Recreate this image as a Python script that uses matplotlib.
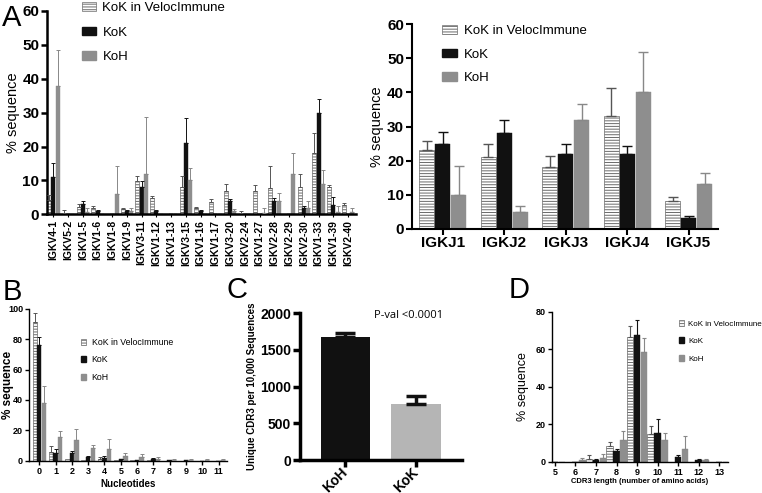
"""
IGK repertoire figure: V usage, J usage, N additions, unique CDR3 and CDR3 length
"""

import numpy as np
import matplotlib
matplotlib.use("Agg")
import matplotlib.pyplot as plt
from matplotlib.patches import Patch

plt.rcParams["font.family"] = ["Liberation Sans", "DejaVu Sans"]
plt.rcParams["hatch.linewidth"] = 0.7

# ── data ────────────────────────────────────────────────────────────────────
v_genes = ["IGKV4-1", "IGKV5-2", "IGKV1-5", "IGKV1-6", "IGKV1-8", "IGKV1-9",
           "IGKV3-11", "IGKV1-12", "IGKV1-13", "IGKV3-15", "IGKV1-16", "IGKV1-17",
           "IGKV3-20", "IGKV2-24", "IGKV1-27", "IGKV2-28", "IGKV2-29", "IGKV2-30",
           "IGKV1-33", "IGKV1-39", "IGKV2-40"]
v_vi      = [4.2, 0.5, 2.3, 1.8, 0.1, 1.5, 9.7, 4.7, 0, 8.2, 1.8, 3.7, 6.8, 0.3, 7.0, 7.9, 0.1, 8.0, 18, 8.0, 2.8]
v_vi_top  = [5.6, 1.3, 3.0, 2.5, 0.1, 2.0, 11.2, 5.3, 0, 11.4, 2.2, 4.4, 8.8, 0.9, 8.6, 14.4, 0.1, 11.9, 24, 8.7, 3.2]
v_kok     = [11, 0, 3.0, 1.0, 0, 1.0, 8.0, 1.0, 0, 21, 1.0, 0, 3.9, 0, 0, 3.9, 0, 1.8, 30, 2.8, 0]
v_kok_top = [15, 0, 3.8, 1.3, 0, 1.2, 9.8, 1.2, 0, 28.4, 1.2, 0, 4.5, 0, 0, 4.7, 0, 2.4, 34, 5.0, 0]
v_koh     = [38, 0, 0.8, 0.2, 6.0, 1.0, 12, 0.2, 0, 10, 0.2, 0.2, 1.0, 0, 0.4, 3.9, 12, 1.9, 9, 0.8, 0.7]
v_koh_top = [48.5, 0, 1.8, 0.2, 14.3, 1.9, 28.8, 0.2, 0, 13.7, 0.2, 0.2, 1.6, 0, 2.0, 6.4, 18, 4.0, 13, 2.4, 2.0]

j_genes   = ["IGKJ1", "IGKJ2", "IGKJ3", "IGKJ4", "IGKJ5"]
j_vi      = [23, 21, 18, 33, 8]
j_vi_top  = [25.8, 24.8, 21.3, 41.2, 9.3]
j_kok     = [25, 28, 22, 22, 3]
j_kok_top = [28.5, 32, 24.8, 24.2, 3.6]
j_koh     = [10, 5, 32, 40, 13]
j_koh_top = [18.3, 6.6, 36.7, 51.8, 16.3]

nuc        = list(range(12))
n_vi       = [91.4, 5.7, 0.9, 0.3, 1.1, 0.3, 0.2, 0.3, 0, 0, 0, 0]
n_vi_top   = [97, 10, 0.9, 0.3, 2.5, 0.3, 0.2, 0.3, 0, 0, 0, 0]
n_kok      = [76, 5.3, 4.8, 2.6, 1.8, 0.9, 0.5, 0.9, 0.2, 0.2, 0, 0]
n_kok_top  = [81.6, 7.5, 6.4, 3.3, 3.0, 1.2, 0.5, 1.5, 0.2, 0.2, 0, 0]
n_koh      = [37.7, 15.6, 13.8, 8.5, 7.5, 3.3, 2.6, 1.3, 0.5, 0.5, 0.3, 0.4]
n_koh_top  = [49, 19.7, 20.6, 10.5, 14, 4.8, 4.2, 2.4, 1.0, 1.2, 0.8, 1.0]

cdr3_groups = ["KoH", "KoK"]
cdr3_unique = [1680, 760]
cdr3_err    = [50, 110]

cdr3_len     = list(range(5, 14))
l_vi         = [0, 0, 1.4, 8.3, 66.5, 14.6, 0, 0, 0]
l_vi_top     = [0, 0, 3.4, 10.5, 72.2, 19.2, 0, 0, 0]
l_kok        = [0.1, 0, 0.9, 5.7, 67.7, 15.5, 2.7, 0.8, 0]
l_kok_top    = [0.1, 0, 1.4, 6.9, 75.4, 22.9, 3.6, 1.3, 0]
l_koh        = [0, 0.9, 2.0, 11.7, 58.5, 11.7, 6.6, 0.8, 0]
l_koh_top    = [0, 2.0, 3.9, 16.3, 65.9, 15.3, 13.9, 1.2, 0]

labels = ["KoK in VelocImmune", "KoK", "KoH"]
KOK_C = "#111111"
KOH_C = "#8e8e8e"
STRIPE_C = "#6a6a6a"
W, H = 762, 493


def grouped(ax, x, series, width, off, cap, elw):
    x = np.asarray(x, dtype=float)
    styles = [dict(color="white", edgecolor=STRIPE_C, hatch="------", lw=0.5),
              dict(color=KOK_C, edgecolor=KOK_C, lw=0.3),
              dict(color=KOH_C, edgecolor=KOH_C, lw=0.3)]
    ecols = ["#555555", KOK_C, "#888888"]
    for i, (vals, tops) in enumerate(series):
        vals = np.asarray(vals, dtype=float)
        tops = np.asarray(tops, dtype=float)
        xs = x + (i - 1) * off
        ax.bar(xs, vals, width, zorder=2, **styles[i])
        m = tops > vals
        ax.errorbar(xs[m], vals[m], yerr=[np.zeros(m.sum()), (tops - vals)[m]],
                    fmt="none", ecolor=ecols[i], elinewidth=elw, capsize=cap,
                    capthick=elw, zorder=3)


def add_legend(ax, x, y, size, hl, hh, ls, tp=0.5):
    hs = [Patch(facecolor="white", edgecolor=STRIPE_C, hatch="------", lw=0.5),
          Patch(facecolor=KOK_C, edgecolor=KOK_C),
          Patch(facecolor=KOH_C, edgecolor=KOH_C)]
    ax.legend(hs, labels, loc="upper left", bbox_to_anchor=(x / W, 1 - y / H),
              bbox_transform=fig.transFigure, frameon=False, fontsize=size,
              handlelength=hl, handleheight=hh, handletextpad=tp,
              labelspacing=ls, borderpad=0, borderaxespad=0)


def style(ax, lw, tlen, tsize):
    ax.spines[["top", "right"]].set_visible(False)
    for s in ["left", "bottom"]:
        ax.spines[s].set_linewidth(lw)
    ax.tick_params(width=lw, length=tlen, labelsize=tsize, direction="out", pad=1.5)
    for t in ax.get_yticklabels():
        t.set_fontweight("bold")


def ylabel_at(ax, text, xpix, **kw):
    # centre of the rotated label sits at xpix
    ax.set_ylabel(text, va="center", **kw)
    bb = ax.get_position()
    ax.yaxis.set_label_coords((xpix / W - bb.x0) / bb.width, 0.5)


fig = plt.figure(figsize=(7.62, 4.93), dpi=100)

# Panel A left — V gene usage
axA = fig.add_axes([47 / W, 0.5653, 309 / W, 0.4124])
xv = np.arange(len(v_genes))
grouped(axA, xv, [(v_vi, v_vi_top), (v_kok, v_kok_top), (v_koh, v_koh_top)],
        0.27, 0.29, 1.2, 0.7)
axA.set_xlim(-0.43, 20.54)
axA.set_ylim(0, 60)
axA.set_yticks(range(0, 61, 10))
axA.set_xticks(xv)
axA.set_xticklabels(v_genes, rotation=90, fontsize=7.5, fontweight="bold")
style(axA, 1.8, 4, 11)
axA.tick_params(axis="x", length=2.5, width=0.8, labelsize=7.5)
ylabel_at(axA, "% sequence", 13, fontsize=10.5)
add_legend(axA, 82, 2, 9.5, 1.05, 0.6, 0.95)

# Panel A right — J gene usage
axJ = fig.add_axes([0.5403, 0.5361, 0.402, 0.4146])
xj = np.arange(len(j_genes))
grouped(axJ, xj, [(j_vi, j_vi_top), (j_kok, j_kok_top), (j_koh, j_koh_top)],
        0.245, 0.26, 3.5, 1.0)
axJ.set_xlim(-0.505, 4.48)
axJ.set_ylim(0, 60)
axJ.set_yticks(range(0, 61, 10))
axJ.set_xticks(xj)
axJ.set_xticklabels(j_genes, fontsize=11, fontweight="bold")
style(axJ, 1.5, 4, 11)
axJ.tick_params(axis="x", length=4)
ylabel_at(axJ, "% sequence", 377, fontsize=10.5)
add_legend(axJ, 442, 25, 9.5, 1.15, 0.6, 0.88)

# Panel B — N nucleotide additions
axB = fig.add_axes([0.0385, 0.0655, 0.259, 0.3083])
grouped(axB, nuc, [(n_vi, n_vi_top), (n_kok, n_kok_top), (n_koh, n_koh_top)],
        0.27, 0.28, 1.2, 0.7)
axB.set_xlim(-0.61, 11.5)
axB.set_ylim(0, 100)
axB.set_yticks(range(0, 101, 20))
axB.set_xticks(nuc)
style(axB, 1.0, 3, 6.5)
for t in axB.get_xticklabels():
    t.set_fontweight("bold")
axB.set_xlabel("Nucleotides", fontsize=7, fontweight="bold", labelpad=2)
ylabel_at(axB, "% sequence", 8, fontsize=8.5, fontweight="bold")
add_legend(axB, 81, 338, 6.3, 0.6, 0.7, 0.95, tp=0.6)

# Panel C — unique CDR3 per 10,000 sequences
axC = fig.add_axes([0.3937, 0.0669, 0.2122, 0.2976])
xc = np.arange(len(cdr3_groups))
axC.bar(xc, cdr3_unique, 0.70, color=[KOK_C, "#b5b5b5"], zorder=2)
axC.errorbar(xc, cdr3_unique, yerr=[[0, 0], cdr3_err], fmt="none", ecolor=KOK_C,
             elinewidth=2.5, capsize=7, capthick=2.5, zorder=3)
axC.set_xlim(-0.645, 1.65)
axC.set_ylim(0, 2000)
axC.set_yticks(range(0, 2001, 500))
axC.set_xticks(xc)
axC.set_xticklabels(cdr3_groups, rotation=45, ha="right", va="center",
                    rotation_mode="anchor", fontsize=7, fontweight="bold")
style(axC, 2.5, 5, 10)
axC.tick_params(axis="x", pad=2.5)
ylabel_at(axC, "Unique CDR3 per 10,000 Sequences", 252, fontsize=7, fontweight="bold")
axC.text(374 / W, 1 - 315 / H, "P-val <0.0001", transform=fig.transFigure,
         fontsize=8, family=["Open Sans", "Liberation Sans"], va="center")

# Panel D — CDR3 length distribution
axD = fig.add_axes([0.724, 0.0635, 0.2318, 0.3043])
grouped(axD, cdr3_len, [(l_vi, l_vi_top), (l_kok, l_kok_top), (l_koh, l_koh_top)],
        0.33, 0.34, 1.5, 0.8)
axD.set_xlim(4.84, 13.45)
axD.set_ylim(0, 80)
axD.set_yticks(range(0, 81, 20))
axD.set_xticks(cdr3_len)
style(axD, 1.0, 3, 6.5)
for t in axD.get_xticklabels():
    t.set_fontweight("bold")
axD.set_xlabel("CDR3 length (number of amino acids)", fontsize=5.5, fontweight="bold",
               labelpad=0.5)
ylabel_at(axD, "% sequence", 523, fontsize=9)
add_legend(axD, 679, 320, 5.8, 0.65, 0.75, 1.2, tp=0.5)

# panel letters
for lab, x, y in [("A", 2, 26), ("B", 3, 300), ("C", 227, 298), ("D", 509, 298)]:
    fig.text(x / W, 1 - y / H, lab, fontsize=21, va="baseline", ha="left")

plt.savefig("out.png", dpi=100)
plt.close()
